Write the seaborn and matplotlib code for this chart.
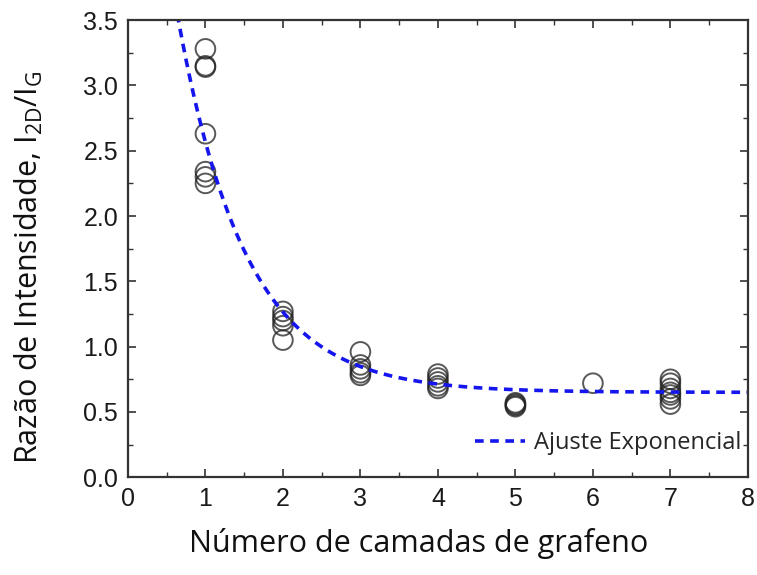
import matplotlib
matplotlib.use("Agg")
import matplotlib.pyplot as plt
import numpy as np
import pandas as pd
import seaborn as sns
from matplotlib.ticker import MultipleLocator, FormatStrFormatter

camadas = [1, 1, 1, 1, 1, 1, 1,
           2, 2, 2, 2, 2,
           3, 3, 3, 3, 3,
           4, 4, 4, 4, 4,
           5, 5, 5, 5,
           6,
           7, 7, 7, 7, 7, 7, 7]
razao = [3.28, 3.15, 3.14, 2.63, 2.34, 2.30, 2.25,
         1.27, 1.23, 1.20, 1.16, 1.05,
         0.96, 0.86, 0.83, 0.80, 0.78,
         0.79, 0.76, 0.73, 0.70, 0.68,
         0.57, 0.56, 0.55, 0.54,
         0.72,
         0.75, 0.72, 0.68, 0.65, 0.63, 0.60, 0.56]

# parametros do ajuste exponencial y = y0 + A*exp(-x/t)
ajuste_y0 = 0.65
ajuste_A = 5.97
ajuste_t = 0.88

df = pd.DataFrame({"camadas": camadas, "razao": razao})
x_fit = np.linspace(0.6, 8, 300)
fit = pd.DataFrame({"x": x_fit, "y": ajuste_y0 + ajuste_A * np.exp(-x_fit / ajuste_t)})

sns.set_theme(style="ticks")
plt.rcParams['font.family'] = ['Liberation Sans', 'DejaVu Sans']
label_font = ["Open Sans", "DejaVu Sans"]

fig = plt.figure(figsize=(7.57, 5.75), dpi=100)
ax = fig.add_axes([0.169, 0.170, 0.819, 0.795])

sns.scatterplot(data=df, x="camadas", y="razao", ax=ax, s=200, marker="o",
                facecolors="none", edgecolor="#222222", linewidth=1.4, alpha=0.75)
sns.lineplot(data=fit, x="x", y="y", ax=ax, color="#1515ee", linewidth=2.6,
             dashes=False, label="Ajuste Exponencial")
ax.lines[-1].set_dashes((2.4, 1.8))

ax.set_xlim(0, 8)
ax.set_ylim(0, 3.5)
ax.xaxis.set_major_locator(MultipleLocator(1))
ax.xaxis.set_minor_locator(MultipleLocator(0.5))
ax.yaxis.set_major_locator(MultipleLocator(0.5))
ax.yaxis.set_minor_locator(MultipleLocator(0.25))
ax.yaxis.set_major_formatter(FormatStrFormatter("%.1f"))
ax.tick_params(which="both", direction="in", top=True, right=True, color="#333333")
ax.tick_params(which="major", length=6, width=1.2, labelsize=18, labelcolor="#1a1a1a", pad=7)
ax.tick_params(which="minor", length=3.5, width=1.0)
for sp in ax.spines.values():
    sp.set_linewidth(1.6)
    sp.set_color("#333333")

ax.set_xlabel("Número de camadas de grafeno", fontsize=22, family=label_font, color="#111111")
ax.xaxis.set_label_coords(0.469, -0.112)
ax.set_ylabel("Razão de Intensidade, I$_{\\mathregular{2D}}$/I$_{\\mathregular{G}}$", fontsize=22,
              family=label_font, color="#111111")
ax.yaxis.set_label_coords(-0.134, 0.46)

leg = ax.legend(loc="center right", bbox_to_anchor=(0.99, 0.074), frameon=False,
                handlelength=2.1, handletextpad=0.4, borderpad=0, borderaxespad=0,
                prop={"family": label_font, "size": 17})

fig.savefig("out.png", dpi=100)
